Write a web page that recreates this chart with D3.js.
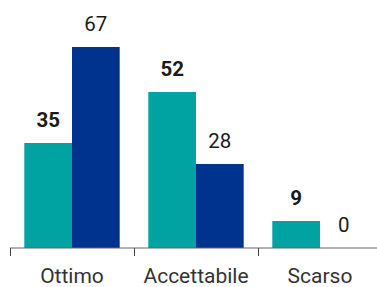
<!DOCTYPE html>
<html>
<head>
<meta charset="utf-8">
<script src="https://cdn.jsdelivr.net/npm/d3@7"></script>
<style>
	body { margin: 0; background: #fff; }
	text { font-family: Roboto, "Liberation Sans", Arial, sans-serif; }
</style>
</head>
<body>
<div id="chart"></div>
<script>
// categories and the two series (teal = bold labels, navy = regular labels)
const categories = ["Ottimo", "Accettabile", "Scarso"];
const series = ["a", "b"];
const values_a = [35, 52, 9];
const values_b = [67, 28, 0];

const canvas_width = 377;
const canvas_height = 287;
const colors = {a: "#00A3A1", b: "#00338D"};

const data = categories.map((c, i) => ({cat: c, a: values_a[i], b: values_b[i]}));

const svg = d3.select("#chart")
	.append("svg")
		.attr("width", canvas_width)
		.attr("height", canvas_height);

// band per category, the last one runs off the right edge
const x = d3.scaleBand()
	.domain(categories)
	.range([10, 382])
	.padding(0);

const x1 = d3.scaleBand()
	.domain(series)
	.range([0, x.bandwidth()])
	.paddingInner(0)
	.paddingOuter(0.3);

const y = d3.scaleLinear()
	.domain([0, 67])
	.range([248, 47]);

// bars
const groups = svg.selectAll(".grp")
	.data(data)
	.enter()
	.append("g")
		.attr("transform", d => "translate(" + x(d.cat) + ",0)");

groups.selectAll("rect")
	.data(d => series.map(s => ({s: s, v: d[s]})))
	.enter()
	.append("rect")
		.attr("x", d => x1(d.s))
		.attr("width", x1.bandwidth())
		.attr("y", d => y(d.v))
		.attr("height", d => y(0) - y(d.v))
		.attr("fill", d => colors[d.s]);

// value labels
groups.selectAll(".val")
	.data(d => series.map(s => ({s: s, v: d[s]})))
	.enter()
	.append("text")
		.attr("x", d => x1(d.s) + x1.bandwidth() / 2)
		.attr("y", d => y(d.v) - 16)
		.attr("text-anchor", "middle")
		.attr("font-size", 20.5)
		.attr("font-weight", d => d.s == "a" ? "bold" : "normal")
		.attr("fill", "#1a1a1a")
		.text(d => d.v);

// x axis: ticks on the band edges, labels centred
const axis = svg.append("g")
	.attr("transform", "translate(0," + y(0) + ")");

axis.append("line")
	.attr("x1", x.range()[0])
	.attr("x2", x.range()[1])
	.attr("stroke", "#666")
	.attr("stroke-width", 1);

axis.selectAll(".tick")
	.data(categories)
	.enter()
	.append("line")
		.attr("x1", d => Math.round(x(d)) + 0.5)
		.attr("x2", d => Math.round(x(d)) + 0.5)
		.attr("y1", 0)
		.attr("y2", 8)
		.attr("stroke", "#444");

axis.selectAll(".lbl")
	.data(categories)
	.enter()
	.append("text")
		.attr("x", d => x(d) + x.bandwidth() / 2)
		.attr("y", 35)
		.attr("text-anchor", "middle")
		.attr("font-size", 21)
		.attr("fill", "#333")
		.text(d => d);
</script>
</body>
</html>
